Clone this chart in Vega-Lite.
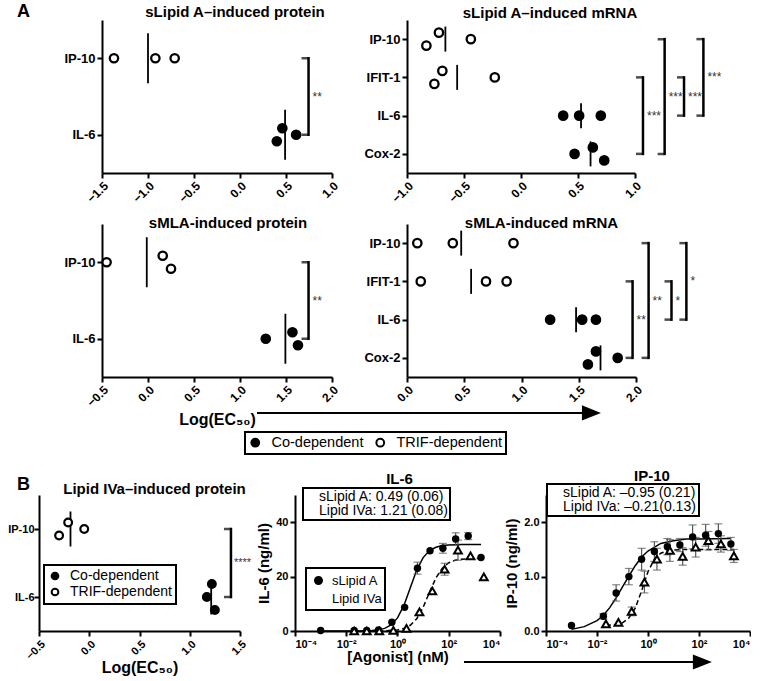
{
"$schema": "https://vega.github.io/schema/vega-lite/v6.json",
"background": "white",
"padding": {"left": 7, "top": 3, "right": 0, "bottom": 0},
"config": {
 "font": "Liberation Sans",
 "view": {"stroke": null},
 "axis": {"grid": false, "domainColor": "black", "domainWidth": 2, "tickColor": "black", "tickWidth": 2, "tickSize": 5, "labelColor": "black", "labelFont": "Liberation Sans", "labelFontWeight": "bold", "labelPadding": 2, "labelOverlap": false, "titleColor": "black", "titleFont": "Liberation Sans", "titleFontWeight": "bold"},
 "title": {"font": "Liberation Sans", "fontSize": 15, "fontWeight": "bold", "color": "black", "baseline": "alphabetic"},
 "legend": {"labelFont": "Liberation Sans", "labelColor": "black", "strokeWidth": 2}
},
"datasets": {
 "dots": [
  {"panel":"A1","gene":"IP-10","row":1,"group":"TRIF-dependent","logEC50":-1.37,"jit":0},
  {"panel":"A1","gene":"IP-10","row":1,"group":"TRIF-dependent","logEC50":-0.92,"jit":0},
  {"panel":"A1","gene":"IP-10","row":1,"group":"TRIF-dependent","logEC50":-0.71,"jit":0},
  {"panel":"A1","gene":"IL-6","row":2,"group":"Co-dependent","logEC50":0.46,"jit":-1},
  {"panel":"A1","gene":"IL-6","row":2,"group":"Co-dependent","logEC50":0.40,"jit":1},
  {"panel":"A1","gene":"IL-6","row":2,"group":"Co-dependent","logEC50":0.61,"jit":0},
  {"panel":"A2","gene":"IP-10","row":1,"group":"TRIF-dependent","logEC50":-0.72,"jit":-1},
  {"panel":"A2","gene":"IP-10","row":1,"group":"TRIF-dependent","logEC50":-0.83,"jit":1},
  {"panel":"A2","gene":"IP-10","row":1,"group":"TRIF-dependent","logEC50":-0.44,"jit":0},
  {"panel":"A2","gene":"IFIT-1","row":2,"group":"TRIF-dependent","logEC50":-0.69,"jit":-1},
  {"panel":"A2","gene":"IFIT-1","row":2,"group":"TRIF-dependent","logEC50":-0.76,"jit":1},
  {"panel":"A2","gene":"IFIT-1","row":2,"group":"TRIF-dependent","logEC50":-0.23,"jit":0},
  {"panel":"A2","gene":"IL-6","row":3,"group":"Co-dependent","logEC50":0.37,"jit":0},
  {"panel":"A2","gene":"IL-6","row":3,"group":"Co-dependent","logEC50":0.51,"jit":0},
  {"panel":"A2","gene":"IL-6","row":3,"group":"Co-dependent","logEC50":0.70,"jit":0},
  {"panel":"A2","gene":"Cox-2","row":4,"group":"Co-dependent","logEC50":0.63,"jit":-1},
  {"panel":"A2","gene":"Cox-2","row":4,"group":"Co-dependent","logEC50":0.47,"jit":0},
  {"panel":"A2","gene":"Cox-2","row":4,"group":"Co-dependent","logEC50":0.73,"jit":1},
  {"panel":"A3","gene":"IP-10","row":1,"group":"TRIF-dependent","logEC50":-0.45,"jit":0},
  {"panel":"A3","gene":"IP-10","row":1,"group":"TRIF-dependent","logEC50":0.16,"jit":-1},
  {"panel":"A3","gene":"IP-10","row":1,"group":"TRIF-dependent","logEC50":0.25,"jit":1},
  {"panel":"A3","gene":"IL-6","row":2,"group":"Co-dependent","logEC50":1.28,"jit":0},
  {"panel":"A3","gene":"IL-6","row":2,"group":"Co-dependent","logEC50":1.57,"jit":-1},
  {"panel":"A3","gene":"IL-6","row":2,"group":"Co-dependent","logEC50":1.63,"jit":1},
  {"panel":"A4","gene":"IP-10","row":1,"group":"TRIF-dependent","logEC50":0.09,"jit":0},
  {"panel":"A4","gene":"IP-10","row":1,"group":"TRIF-dependent","logEC50":0.40,"jit":0},
  {"panel":"A4","gene":"IP-10","row":1,"group":"TRIF-dependent","logEC50":0.93,"jit":0},
  {"panel":"A4","gene":"IFIT-1","row":2,"group":"TRIF-dependent","logEC50":0.12,"jit":0},
  {"panel":"A4","gene":"IFIT-1","row":2,"group":"TRIF-dependent","logEC50":0.69,"jit":0},
  {"panel":"A4","gene":"IFIT-1","row":2,"group":"TRIF-dependent","logEC50":0.87,"jit":0},
  {"panel":"A4","gene":"IL-6","row":3,"group":"Co-dependent","logEC50":1.25,"jit":0},
  {"panel":"A4","gene":"IL-6","row":3,"group":"Co-dependent","logEC50":1.53,"jit":0},
  {"panel":"A4","gene":"IL-6","row":3,"group":"Co-dependent","logEC50":1.65,"jit":0},
  {"panel":"A4","gene":"Cox-2","row":4,"group":"Co-dependent","logEC50":1.65,"jit":-1},
  {"panel":"A4","gene":"Cox-2","row":4,"group":"Co-dependent","logEC50":1.84,"jit":0},
  {"panel":"A4","gene":"Cox-2","row":4,"group":"Co-dependent","logEC50":1.58,"jit":1},
  {"panel":"B1","gene":"IP-10","row":1,"group":"TRIF-dependent","logEC50":-0.30,"jit":1},
  {"panel":"B1","gene":"IP-10","row":1,"group":"TRIF-dependent","logEC50":-0.21,"jit":-1},
  {"panel":"B1","gene":"IP-10","row":1,"group":"TRIF-dependent","logEC50":-0.05,"jit":0},
  {"panel":"B1","gene":"IL-6","row":2,"group":"Co-dependent","logEC50":1.22,"jit":-2},
  {"panel":"B1","gene":"IL-6","row":2,"group":"Co-dependent","logEC50":1.17,"jit":0},
  {"panel":"B1","gene":"IL-6","row":2,"group":"Co-dependent","logEC50":1.25,"jit":2}
 ],
 "brackets": [
  {"panel":"A1","id":"A1a","r1":1,"r2":2,"bx":0.745,"label":"**"},
  {"panel":"A2","id":"A2a","r1":2,"r2":4,"bx":1.07,"label":"***"},
  {"panel":"A2","id":"A2b","r1":1,"r2":4,"bx":1.26,"label":"***"},
  {"panel":"A2","id":"A2c","r1":2,"r2":3,"bx":1.43,"label":"***"},
  {"panel":"A2","id":"A2d","r1":1,"r2":3,"bx":1.60,"label":"***"},
  {"panel":"A3","id":"A3a","r1":1,"r2":2,"bx":1.745,"label":"**"},
  {"panel":"A4","id":"A4a","r1":2,"r2":4,"bx":1.97,"label":"**"},
  {"panel":"A4","id":"A4b","r1":1,"r2":4,"bx":2.11,"label":"**"},
  {"panel":"A4","id":"A4c","r1":2,"r2":3,"bx":2.31,"label":"*"},
  {"panel":"A4","id":"A4d","r1":1,"r2":3,"bx":2.44,"label":"*"},
  {"panel":"B1","id":"B1a","r1":1,"r2":2,"bx":1.41,"label":"****"}
 ],
 "doses": [
  {"assay":"IL-6","agonist":"sLipid A","dose":0.001,"resp":0.2},
  {"assay":"IL-6","agonist":"sLipid A","dose":0.0204,"resp":0.2},
  {"assay":"IL-6","agonist":"sLipid A","dose":0.063,"resp":0.2},
  {"assay":"IL-6","agonist":"sLipid A","dose":0.182,"resp":0.4},
  {"assay":"IL-6","agonist":"sLipid A","dose":0.603,"resp":3.2},
  {"assay":"IL-6","agonist":"sLipid A","dose":1.9,"resp":8.7},
  {"assay":"IL-6","agonist":"sLipid A","dose":6.0,"resp":23.1,"err":2.2},
  {"assay":"IL-6","agonist":"sLipid A","dose":18.6,"resp":29.5},
  {"assay":"IL-6","agonist":"sLipid A","dose":59,"resp":30.4,"err":1.8},
  {"assay":"IL-6","agonist":"sLipid A","dose":186,"resp":33.8,"err":2.3},
  {"assay":"IL-6","agonist":"sLipid A","dose":575,"resp":34.9,"err":1.3},
  {"assay":"IL-6","agonist":"sLipid A","dose":1820,"resp":27.0},
  {"assay":"IL-6","agonist":"Lipid IVa","dose":0.0204,"resp":0},
  {"assay":"IL-6","agonist":"Lipid IVa","dose":0.063,"resp":0},
  {"assay":"IL-6","agonist":"Lipid IVa","dose":0.195,"resp":0},
  {"assay":"IL-6","agonist":"Lipid IVa","dose":0.69,"resp":0.2},
  {"assay":"IL-6","agonist":"Lipid IVa","dose":2.24,"resp":1.0},
  {"assay":"IL-6","agonist":"Lipid IVa","dose":7.2,"resp":7.0},
  {"assay":"IL-6","agonist":"Lipid IVa","dose":22.9,"resp":14.7},
  {"assay":"IL-6","agonist":"Lipid IVa","dose":69,"resp":22.7,"err":2.2},
  {"assay":"IL-6","agonist":"Lipid IVa","dose":229,"resp":29.7,"err":3.7},
  {"assay":"IL-6","agonist":"Lipid IVa","dose":708,"resp":27.6},
  {"assay":"IL-6","agonist":"Lipid IVa","dose":2340,"resp":19.9},
  {"assay":"IP-10","agonist":"sLipid A","dose":0.001,"resp":0.10},
  {"assay":"IP-10","agonist":"sLipid A","dose":0.0178,"resp":0.27,"err":0.05},
  {"assay":"IP-10","agonist":"sLipid A","dose":0.0562,"resp":0.70,"err":0.15},
  {"assay":"IP-10","agonist":"sLipid A","dose":0.178,"resp":1.00,"err":0.15},
  {"assay":"IP-10","agonist":"sLipid A","dose":0.562,"resp":1.32,"err":0.2},
  {"assay":"IP-10","agonist":"sLipid A","dose":1.78,"resp":1.46,"err":0.18},
  {"assay":"IP-10","agonist":"sLipid A","dose":5.75,"resp":1.55,"err":0.15},
  {"assay":"IP-10","agonist":"sLipid A","dose":17.8,"resp":1.58,"err":0.12},
  {"assay":"IP-10","agonist":"sLipid A","dose":56.2,"resp":1.73,"err":0.22},
  {"assay":"IP-10","agonist":"sLipid A","dose":182,"resp":1.76,"err":0.2},
  {"assay":"IP-10","agonist":"sLipid A","dose":575,"resp":1.79,"err":0.18},
  {"assay":"IP-10","agonist":"sLipid A","dose":1780,"resp":1.60,"err":0.12},
  {"assay":"IP-10","agonist":"Lipid IVa","dose":0.0224,"resp":0.13},
  {"assay":"IP-10","agonist":"Lipid IVa","dose":0.0692,"resp":0.16},
  {"assay":"IP-10","agonist":"Lipid IVa","dose":0.229,"resp":0.36,"err":0.08},
  {"assay":"IP-10","agonist":"Lipid IVa","dose":0.724,"resp":0.90,"err":0.2},
  {"assay":"IP-10","agonist":"Lipid IVa","dose":2.24,"resp":1.32,"err":0.2},
  {"assay":"IP-10","agonist":"Lipid IVa","dose":7.24,"resp":1.48,"err":0.2},
  {"assay":"IP-10","agonist":"Lipid IVa","dose":22.9,"resp":1.37,"err":0.16},
  {"assay":"IP-10","agonist":"Lipid IVa","dose":74.1,"resp":1.54,"err":0.18},
  {"assay":"IP-10","agonist":"Lipid IVa","dose":234,"resp":1.66,"err":0.17},
  {"assay":"IP-10","agonist":"Lipid IVa","dose":724,"resp":1.60,"err":0.15},
  {"assay":"IP-10","agonist":"Lipid IVa","dose":2340,"resp":1.38,"err":0.12}
 ],
 "curves": [
  {"assay":"IL-6","agonist":"sLipid A","dose":0.001,"resp":0},
  {"assay":"IL-6","agonist":"sLipid A","dose":0.01,"resp":0.01},
  {"assay":"IL-6","agonist":"sLipid A","dose":0.0316,"resp":0.03},
  {"assay":"IL-6","agonist":"sLipid A","dose":0.1,"resp":0.18},
  {"assay":"IL-6","agonist":"sLipid A","dose":0.178,"resp":0.42},
  {"assay":"IL-6","agonist":"sLipid A","dose":0.316,"resp":0.97},
  {"assay":"IL-6","agonist":"sLipid A","dose":0.562,"resp":2.2},
  {"assay":"IL-6","agonist":"sLipid A","dose":1,"resp":4.8},
  {"assay":"IL-6","agonist":"sLipid A","dose":1.78,"resp":9.4},
  {"assay":"IL-6","agonist":"sLipid A","dose":3.16,"resp":15.9},
  {"assay":"IL-6","agonist":"sLipid A","dose":5.62,"resp":22.4},
  {"assay":"IL-6","agonist":"sLipid A","dose":10,"resp":27.0},
  {"assay":"IL-6","agonist":"sLipid A","dose":17.8,"resp":29.6},
  {"assay":"IL-6","agonist":"sLipid A","dose":31.6,"resp":30.8},
  {"assay":"IL-6","agonist":"sLipid A","dose":56.2,"resp":31.4},
  {"assay":"IL-6","agonist":"sLipid A","dose":100,"resp":31.6},
  {"assay":"IL-6","agonist":"sLipid A","dose":316,"resp":31.8},
  {"assay":"IL-6","agonist":"sLipid A","dose":1820,"resp":31.8},
  {"assay":"IL-6","agonist":"Lipid IVa","dose":0.0204,"resp":0},
  {"assay":"IL-6","agonist":"Lipid IVa","dose":0.1,"resp":0.01},
  {"assay":"IL-6","agonist":"Lipid IVa","dose":0.316,"resp":0.07},
  {"assay":"IL-6","agonist":"Lipid IVa","dose":1,"resp":0.4},
  {"assay":"IL-6","agonist":"Lipid IVa","dose":1.78,"resp":0.94},
  {"assay":"IL-6","agonist":"Lipid IVa","dose":3.16,"resp":2.1},
  {"assay":"IL-6","agonist":"Lipid IVa","dose":5.62,"resp":4.5},
  {"assay":"IL-6","agonist":"Lipid IVa","dose":10,"resp":8.7},
  {"assay":"IL-6","agonist":"Lipid IVa","dose":17.8,"resp":14.3},
  {"assay":"IL-6","agonist":"Lipid IVa","dose":31.6,"resp":19.5},
  {"assay":"IL-6","agonist":"Lipid IVa","dose":56.2,"resp":23.1},
  {"assay":"IL-6","agonist":"Lipid IVa","dose":100,"resp":25.1},
  {"assay":"IL-6","agonist":"Lipid IVa","dose":178,"resp":26.0},
  {"assay":"IL-6","agonist":"Lipid IVa","dose":316,"resp":26.4},
  {"assay":"IL-6","agonist":"Lipid IVa","dose":1000,"resp":26.7},
  {"assay":"IL-6","agonist":"Lipid IVa","dose":2340,"resp":26.7},
  {"assay":"IP-10","agonist":"sLipid A","dose":0.001,"resp":0.03},
  {"assay":"IP-10","agonist":"sLipid A","dose":0.00316,"resp":0.08},
  {"assay":"IP-10","agonist":"sLipid A","dose":0.01,"resp":0.19},
  {"assay":"IP-10","agonist":"sLipid A","dose":0.0178,"resp":0.29},
  {"assay":"IP-10","agonist":"sLipid A","dose":0.0316,"resp":0.43},
  {"assay":"IP-10","agonist":"sLipid A","dose":0.0562,"resp":0.61},
  {"assay":"IP-10","agonist":"sLipid A","dose":0.1,"resp":0.81},
  {"assay":"IP-10","agonist":"sLipid A","dose":0.178,"resp":1.01},
  {"assay":"IP-10","agonist":"sLipid A","dose":0.316,"resp":1.2},
  {"assay":"IP-10","agonist":"sLipid A","dose":0.562,"resp":1.36},
  {"assay":"IP-10","agonist":"sLipid A","dose":1,"resp":1.47},
  {"assay":"IP-10","agonist":"sLipid A","dose":3.16,"resp":1.61},
  {"assay":"IP-10","agonist":"sLipid A","dose":10,"resp":1.66},
  {"assay":"IP-10","agonist":"sLipid A","dose":31.6,"resp":1.69},
  {"assay":"IP-10","agonist":"sLipid A","dose":100,"resp":1.69},
  {"assay":"IP-10","agonist":"sLipid A","dose":1780,"resp":1.7},
  {"assay":"IP-10","agonist":"Lipid IVa","dose":0.0224,"resp":0.1},
  {"assay":"IP-10","agonist":"Lipid IVa","dose":0.0562,"resp":0.12},
  {"assay":"IP-10","agonist":"Lipid IVa","dose":0.1,"resp":0.15},
  {"assay":"IP-10","agonist":"Lipid IVa","dose":0.178,"resp":0.24},
  {"assay":"IP-10","agonist":"Lipid IVa","dose":0.316,"resp":0.42},
  {"assay":"IP-10","agonist":"Lipid IVa","dose":0.562,"resp":0.74},
  {"assay":"IP-10","agonist":"Lipid IVa","dose":1,"resp":1.09},
  {"assay":"IP-10","agonist":"Lipid IVa","dose":1.78,"resp":1.32},
  {"assay":"IP-10","agonist":"Lipid IVa","dose":3.16,"resp":1.43},
  {"assay":"IP-10","agonist":"Lipid IVa","dose":5.62,"resp":1.47},
  {"assay":"IP-10","agonist":"Lipid IVa","dose":10,"resp":1.49},
  {"assay":"IP-10","agonist":"Lipid IVa","dose":31.6,"resp":1.5},
  {"assay":"IP-10","agonist":"Lipid IVa","dose":2340,"resp":1.5}
 ],
 "fits": [
  {"assay":"IL-6","agonist":"sLipid A","fit":"sLipid A: 0.49 (0.06)"},
  {"assay":"IL-6","agonist":"Lipid IVa","fit":"Lipid IVa: 1.21 (0.08)"},
  {"assay":"IP-10","agonist":"sLipid A","fit":"sLipid A: –0.95 (0.21)"},
  {"assay":"IP-10","agonist":"Lipid IVa","fit":"Lipid IVa: –0.21(0.13)"}
 ]
},
"resolve": {"scale": {"fill": "independent", "shape": "independent", "stroke": "independent"}},
"spacing": 14,
"vconcat": [
 {
  "columns": 4,
  "bounds": "flush",
  "align": "each",
  "spacing": {"row": 51, "column": 0},
  "resolve": {"scale": {"fill": "independent"}},
  "concat": [
   {"width": 63, "height": 1, "data": {"values": []}, "mark": "point", "title": {"text": "A", "anchor": "start", "frame": "group", "fontSize": 18, "offset": -1, "dx": -22}},
   {
    "width": 230, "height": 153,
    "title": {"text": "sLipid A–induced protein", "dx": 18, "offset": 0},
    "layer": [
     {"data": {"name": "dots"}, "transform": [{"filter": "datum.panel === 'A1'"}],
      "mark": {"type": "tick", "orient": "vertical", "size": 50, "thickness": 1.8, "color": "black"},
      "encoding": {
       "x": {"aggregate": "mean", "field": "logEC50", "type": "quantitative", "scale": {"domain": [-1.5, 1], "nice": false, "zero": false}, "axis": {"values": [-1.5, -1, -0.5, 0, 0.5, 1], "format": ".1f", "labelAngle": -45, "labelFontSize": 12, "title": null}},
       "y": {"field": "row", "type": "quantitative", "scale": {"domain": [0.5, 2.5], "reverse": true, "nice": false, "zero": false}, "axis": {"values": [1, 2], "labelExpr": "datum.value == 1 ? 'IP-10' : 'IL-6'", "labelFontSize": 13, "title": null}}
      }},
     {"data": {"name": "dots"}, "transform": [{"filter": "datum.panel === 'A1'"}],
      "mark": {"type": "point", "shape": "circle", "filled": true, "size": 70, "stroke": "black", "strokeWidth": 2.3, "opacity": 1, "yOffset": {"expr": "datum.jit * 6.5"}},
      "encoding": {
       "x": {"field": "logEC50", "type": "quantitative", "title": null},
       "y": {"field": "row", "type": "quantitative", "title": null},
       "fill": {"field": "group", "type": "nominal", "scale": {"domain": ["Co-dependent", "TRIF-dependent"], "range": ["black", "white"]}, "legend": {"orient": "none", "legendX": 143, "legendY": 412, "direction": "horizontal", "title": null, "strokeColor": "black", "padding": 3, "labelFontSize": 14.5, "symbolType": "circle", "symbolSize": 60, "symbolStrokeColor": "black", "symbolStrokeWidth": 2, "symbolOpacity": 1, "columnPadding": 8, "labelOffset": 9}}
      }},
     {"data": {"name": "brackets"}, "transform": [{"filter": "datum.panel === 'A1'"}],
      "mark": {"type": "rule", "strokeWidth": 2.5, "color": "black", "strokeCap": "square"},
      "encoding": {"x": {"field": "bx", "type": "quantitative", "title": null}, "y": {"field": "r1", "type": "quantitative", "title": null}, "y2": {"field": "r2"}}},
     {"data": {"name": "brackets"}, "transform": [{"filter": "datum.panel === 'A1'"}, {"fold": ["r1", "r2"], "as": ["end", "rv"]}],
      "mark": {"type": "tick", "orient": "horizontal", "size": 7, "thickness": 2.5, "color": "black", "xOffset": -3.5},
      "encoding": {"x": {"field": "bx", "type": "quantitative", "title": null}, "y": {"field": "rv", "type": "quantitative", "title": null}}},
     {"data": {"name": "brackets"}, "transform": [{"filter": "datum.panel === 'A1'"}, {"fold": ["r1", "r2"], "as": ["end", "rv"]}],
      "mark": {"type": "text", "align": "left", "baseline": "middle", "dx": 4, "fontSize": 12, "color": "#333"},
      "encoding": {"x": {"field": "bx", "type": "quantitative", "title": null}, "y": {"aggregate": "mean", "field": "rv", "type": "quantitative", "title": null}, "text": {"field": "label", "type": "nominal"}, "detail": {"field": "id", "type": "nominal"}}}
    ]
   },
   {"width": 75, "height": 1, "data": {"values": []}, "mark": "point"},
   {
    "width": 228, "height": 153,
    "title": {"text": "sLipid A–induced mRNA", "dx": 29, "offset": -0.5},
    "layer": [
     {"data": {"name": "dots"}, "transform": [{"filter": "datum.panel === 'A2'"}],
      "mark": {"type": "tick", "orient": "vertical", "size": 25, "thickness": 1.8, "color": "black"},
      "encoding": {
       "x": {"aggregate": "mean", "field": "logEC50", "type": "quantitative", "scale": {"domain": [-1, 1], "nice": false, "zero": false}, "axis": {"values": [-1, -0.5, 0, 0.5, 1], "format": ".1f", "labelAngle": -45, "labelFontSize": 12, "title": null}},
       "y": {"field": "row", "type": "quantitative", "scale": {"domain": [0.5, 4.5], "reverse": true, "nice": false, "zero": false}, "axis": {"values": [1, 2, 3, 4], "labelExpr": "datum.value == 1 ? 'IP-10' : datum.value == 2 ? 'IFIT-1' : datum.value == 3 ? 'IL-6' : 'Cox-2'", "labelFontSize": 13, "title": null}}
      }},
     {"data": {"name": "dots"}, "transform": [{"filter": "datum.panel === 'A2'"}],
      "mark": {"type": "point", "shape": "circle", "filled": true, "size": 70, "stroke": "black", "strokeWidth": 2.3, "opacity": 1, "yOffset": {"expr": "datum.jit * 6.5"}},
      "encoding": {
       "x": {"field": "logEC50", "type": "quantitative", "title": null},
       "y": {"field": "row", "type": "quantitative", "title": null},
       "fill": {"field": "group", "type": "nominal", "scale": {"domain": ["Co-dependent", "TRIF-dependent"], "range": ["black", "white"]}, "legend": null}
      }},
     {"data": {"name": "brackets"}, "transform": [{"filter": "datum.panel === 'A2'"}],
      "mark": {"type": "rule", "strokeWidth": 2.5, "color": "black", "strokeCap": "square"},
      "encoding": {"x": {"field": "bx", "type": "quantitative", "title": null}, "y": {"field": "r1", "type": "quantitative", "title": null}, "y2": {"field": "r2"}}},
     {"data": {"name": "brackets"}, "transform": [{"filter": "datum.panel === 'A2'"}, {"fold": ["r1", "r2"], "as": ["end", "rv"]}],
      "mark": {"type": "tick", "orient": "horizontal", "size": 7, "thickness": 2.5, "color": "black", "xOffset": -3.5},
      "encoding": {"x": {"field": "bx", "type": "quantitative", "title": null}, "y": {"field": "rv", "type": "quantitative", "title": null}}},
     {"data": {"name": "brackets"}, "transform": [{"filter": "datum.panel === 'A2'"}, {"fold": ["r1", "r2"], "as": ["end", "rv"]}],
      "mark": {"type": "text", "align": "left", "baseline": "middle", "dx": 4, "fontSize": 12, "color": "#333"},
      "encoding": {"x": {"field": "bx", "type": "quantitative", "title": null}, "y": {"aggregate": "mean", "field": "rv", "type": "quantitative", "title": null}, "text": {"field": "label", "type": "nominal"}, "detail": {"field": "id", "type": "nominal"}}}
    ]
   },
   {"width": 63, "height": 1, "data": {"values": []}, "mark": "point"},
   {
    "width": 230, "height": 153,
    "title": {"text": "sMLA-induced protein", "dx": 11, "offset": -7},
    "layer": [
     {"data": {"name": "dots"}, "transform": [{"filter": "datum.panel === 'A3'"}],
      "mark": {"type": "tick", "orient": "vertical", "size": 50, "thickness": 1.8, "color": "black"},
      "encoding": {
       "x": {"aggregate": "mean", "field": "logEC50", "type": "quantitative", "scale": {"domain": [-0.5, 2], "nice": false, "zero": false}, "axis": {"values": [-0.5, 0, 0.5, 1, 1.5, 2], "format": ".1f", "labelAngle": -45, "labelFontSize": 12, "title": "Log(EC₅₀)", "titleFontSize": 16, "titlePadding": 3}},
       "y": {"field": "row", "type": "quantitative", "scale": {"domain": [0.5, 2.5], "reverse": true, "nice": false, "zero": false}, "axis": {"values": [1, 2], "labelExpr": "datum.value == 1 ? 'IP-10' : 'IL-6'", "labelFontSize": 13, "title": null}}
      }},
     {"data": {"name": "dots"}, "transform": [{"filter": "datum.panel === 'A3'"}],
      "mark": {"type": "point", "shape": "circle", "filled": true, "size": 70, "stroke": "black", "strokeWidth": 2.3, "opacity": 1, "yOffset": {"expr": "datum.jit * 6.5"}},
      "encoding": {
       "x": {"field": "logEC50", "type": "quantitative"},
       "y": {"field": "row", "type": "quantitative", "title": null},
       "fill": {"field": "group", "type": "nominal", "scale": {"domain": ["Co-dependent", "TRIF-dependent"], "range": ["black", "white"]}, "legend": null}
      }},
     {"data": {"name": "brackets"}, "transform": [{"filter": "datum.panel === 'A3'"}],
      "mark": {"type": "rule", "strokeWidth": 2.5, "color": "black", "strokeCap": "square"},
      "encoding": {"x": {"field": "bx", "type": "quantitative"}, "y": {"field": "r1", "type": "quantitative", "title": null}, "y2": {"field": "r2"}}},
     {"data": {"name": "brackets"}, "transform": [{"filter": "datum.panel === 'A3'"}, {"fold": ["r1", "r2"], "as": ["end", "rv"]}],
      "mark": {"type": "tick", "orient": "horizontal", "size": 7, "thickness": 2.5, "color": "black", "xOffset": -3.5},
      "encoding": {"x": {"field": "bx", "type": "quantitative"}, "y": {"field": "rv", "type": "quantitative", "title": null}}},
     {"data": {"name": "brackets"}, "transform": [{"filter": "datum.panel === 'A3'"}, {"fold": ["r1", "r2"], "as": ["end", "rv"]}],
      "mark": {"type": "text", "align": "left", "baseline": "middle", "dx": 4, "fontSize": 12, "color": "#333"},
      "encoding": {"x": {"field": "bx", "type": "quantitative"}, "y": {"aggregate": "mean", "field": "rv", "type": "quantitative", "title": null}, "text": {"field": "label", "type": "nominal"}, "detail": {"field": "id", "type": "nominal"}}},
     {"data": {"values": [{}]},
      "mark": {"type": "rule", "color": "black", "strokeWidth": 2},
      "encoding": {"x": {"datum": 1.185}, "x2": {"datum": 4.77}, "y": {"datum": 2.97}}},
     {"data": {"values": [{}]},
      "mark": {"type": "point", "shape": "M-1,-0.8L1,0L-1,0.8Z", "size": 361, "filled": true, "color": "black", "opacity": 1},
      "encoding": {"x": {"datum": 4.82}, "y": {"datum": 2.97}}}
    ]
   },
   {"width": 73, "height": 1, "data": {"values": []}, "mark": "point"},
   {
    "width": 229, "height": 153,
    "title": {"text": "sMLA-induced mRNA", "dx": 20, "offset": -6.5},
    "layer": [
     {"data": {"name": "dots"}, "transform": [{"filter": "datum.panel === 'A4'"}],
      "mark": {"type": "tick", "orient": "vertical", "size": 25, "thickness": 1.8, "color": "black"},
      "encoding": {
       "x": {"aggregate": "mean", "field": "logEC50", "type": "quantitative", "scale": {"domain": [0, 2], "nice": false, "zero": false}, "axis": {"values": [0, 0.5, 1, 1.5, 2], "format": ".1f", "labelAngle": -45, "labelFontSize": 12, "title": null}},
       "y": {"field": "row", "type": "quantitative", "scale": {"domain": [0.5, 4.5], "reverse": true, "nice": false, "zero": false}, "axis": {"values": [1, 2, 3, 4], "labelExpr": "datum.value == 1 ? 'IP-10' : datum.value == 2 ? 'IFIT-1' : datum.value == 3 ? 'IL-6' : 'Cox-2'", "labelFontSize": 13, "title": null}}
      }},
     {"data": {"name": "dots"}, "transform": [{"filter": "datum.panel === 'A4'"}],
      "mark": {"type": "point", "shape": "circle", "filled": true, "size": 70, "stroke": "black", "strokeWidth": 2.3, "opacity": 1, "yOffset": {"expr": "datum.jit * 6.5"}},
      "encoding": {
       "x": {"field": "logEC50", "type": "quantitative", "title": null},
       "y": {"field": "row", "type": "quantitative", "title": null},
       "fill": {"field": "group", "type": "nominal", "scale": {"domain": ["Co-dependent", "TRIF-dependent"], "range": ["black", "white"]}, "legend": null}
      }},
     {"data": {"name": "brackets"}, "transform": [{"filter": "datum.panel === 'A4'"}],
      "mark": {"type": "rule", "strokeWidth": 2.5, "color": "black", "strokeCap": "square"},
      "encoding": {"x": {"field": "bx", "type": "quantitative", "title": null}, "y": {"field": "r1", "type": "quantitative", "title": null}, "y2": {"field": "r2"}}},
     {"data": {"name": "brackets"}, "transform": [{"filter": "datum.panel === 'A4'"}, {"fold": ["r1", "r2"], "as": ["end", "rv"]}],
      "mark": {"type": "tick", "orient": "horizontal", "size": 7, "thickness": 2.5, "color": "black", "xOffset": -3.5},
      "encoding": {"x": {"field": "bx", "type": "quantitative", "title": null}, "y": {"field": "rv", "type": "quantitative", "title": null}}},
     {"data": {"name": "brackets"}, "transform": [{"filter": "datum.panel === 'A4'"}, {"fold": ["r1", "r2"], "as": ["end", "rv"]}],
      "mark": {"type": "text", "align": "left", "baseline": "middle", "dx": 4, "fontSize": 12, "color": "#333"},
      "encoding": {"x": {"field": "bx", "type": "quantitative", "title": null}, "y": {"aggregate": "mean", "field": "rv", "type": "quantitative", "title": null}, "text": {"field": "label", "type": "nominal"}, "detail": {"field": "id", "type": "nominal"}}}
    ]
   }
  ]
 },
 {
  "bounds": "flush",
  "spacing": 0,
  "resolve": {"scale": {"fill": "independent", "shape": "independent", "stroke": "independent"}},
  "hconcat": [
   {
    "width": 201, "height": 136,
    "title": {"text": "Lipid IVa–induced protein", "dx": 15, "offset": -2},
    "layer": [
     {"data": {"name": "dots"}, "transform": [{"filter": "datum.panel === 'B1'"}],
      "mark": {"type": "tick", "orient": "vertical", "size": 35, "thickness": 1.8, "color": "black"},
      "encoding": {
       "x": {"aggregate": "mean", "field": "logEC50", "type": "quantitative", "scale": {"domain": [-0.5, 1.5], "nice": false, "zero": false}, "axis": {"values": [-0.5, 0, 0.5, 1, 1.5], "format": ".1f", "labelAngle": -45, "labelFontSize": 11, "title": "Log(EC₅₀)", "titleFontSize": 16, "titlePadding": -2}},
       "y": {"field": "row", "type": "quantitative", "scale": {"domain": [0.5, 2.5], "reverse": true, "nice": false, "zero": false}, "axis": {"values": [1, 2], "labelExpr": "datum.value == 1 ? 'IP-10' : 'IL-6'", "labelFontSize": 11, "labelPadding": 0, "title": null}}
      }},
     {"data": {"name": "dots"}, "transform": [{"filter": "datum.panel === 'B1'"}],
      "mark": {"type": "point", "shape": "circle", "filled": true, "size": 60, "stroke": "black", "strokeWidth": 2.2, "opacity": 1, "yOffset": {"expr": "datum.jit * 6.5"}},
      "encoding": {
       "x": {"field": "logEC50", "type": "quantitative"},
       "y": {"field": "row", "type": "quantitative", "title": null},
       "fill": {"field": "group", "type": "nominal", "scale": {"domain": ["Co-dependent", "TRIF-dependent"], "range": ["black", "white"]}, "legend": {"orient": "none", "legendX": 5, "legendY": 70, "direction": "vertical", "title": null, "strokeColor": "black", "padding": 4, "labelFontSize": 14, "symbolType": "circle", "symbolSize": 45, "symbolStrokeColor": "black", "symbolStrokeWidth": 2, "symbolOpacity": 1, "labelOffset": 8, "rowPadding": 0}}
      }},
     {"data": {"name": "brackets"}, "transform": [{"filter": "datum.panel === 'B1'"}],
      "mark": {"type": "rule", "strokeWidth": 2.5, "color": "black", "strokeCap": "square"},
      "encoding": {"x": {"field": "bx", "type": "quantitative"}, "y": {"field": "r1", "type": "quantitative", "title": null}, "y2": {"field": "r2"}}},
     {"data": {"name": "brackets"}, "transform": [{"filter": "datum.panel === 'B1'"}, {"fold": ["r1", "r2"], "as": ["end", "rv"]}],
      "mark": {"type": "tick", "orient": "horizontal", "size": 7, "thickness": 2.5, "color": "black", "xOffset": -3.5},
      "encoding": {"x": {"field": "bx", "type": "quantitative"}, "y": {"field": "rv", "type": "quantitative", "title": null}}},
     {"data": {"name": "brackets"}, "transform": [{"filter": "datum.panel === 'B1'"}, {"fold": ["r1", "r2"], "as": ["end", "rv"]}],
      "mark": {"type": "text", "align": "left", "baseline": "middle", "dx": 3, "fontSize": 11, "color": "#333"},
      "encoding": {"x": {"field": "bx", "type": "quantitative"}, "y": {"aggregate": "mean", "field": "rv", "type": "quantitative", "title": null}, "text": {"field": "label", "type": "nominal"}, "detail": {"field": "id", "type": "nominal"}}}
    ]
   },
   {"width": 55, "height": 1, "data": {"values": []}, "mark": "point", "title": {"text": "B", "anchor": "start", "frame": "group", "fontSize": 18, "offset": 1.5, "dx": -223}},
   {
    "width": 205, "height": 136,
    "title": {"text": "IL-6", "dx": 2, "offset": 0},
    "layer": [
     {"data": {"name": "curves"}, "transform": [{"filter": "datum.assay === 'IL-6' && datum.agonist === 'sLipid A'"}],
      "mark": {"type": "line", "color": "black", "strokeWidth": 1.5},
      "encoding": {
       "x": {"field": "dose", "type": "quantitative", "scale": {"type": "log", "domain": [0.0001, 10000], "nice": false}, "axis": {"values": [0.0001, 0.01, 1, 100, 10000], "labelExpr": "datum.value < 0.001 ? '10⁻⁴' : datum.value < 0.1 ? '10⁻²' : datum.value < 10 ? '10⁰' : datum.value < 1000 ? '10²' : '10⁴'", "labelFontSize": 11, "title": "[Agonist] (nM)", "titleFontSize": 15, "titlePadding": 0}},
       "y": {"field": "resp", "type": "quantitative", "scale": {"domain": [0, 50], "nice": false}, "axis": {"values": [0, 10, 20, 30, 40, 50], "labelOverlap": false, "labelFontSize": 11, "title": "IL-6 (ng/ml)", "titleFontSize": 15}}
      }},
     {"data": {"name": "curves"}, "transform": [{"filter": "datum.assay === 'IL-6' && datum.agonist === 'Lipid IVa'"}],
      "mark": {"type": "line", "color": "black", "strokeWidth": 1.5, "strokeDash": [5, 3]},
      "encoding": {"x": {"field": "dose", "type": "quantitative"}, "y": {"field": "resp", "type": "quantitative"}}},
     {"data": {"name": "doses"}, "transform": [{"filter": "datum.assay === 'IL-6' && isValid(datum.err)"}],
      "mark": {"type": "errorbar", "ticks": {"size": 8}, "color": "#555", "thickness": 1.2},
      "encoding": {"x": {"field": "dose", "type": "quantitative"}, "y": {"field": "resp", "type": "quantitative", "axis": {"values": [0, 10, 20, 30, 40, 50], "labelOverlap": false, "labelFontSize": 11, "title": "IL-6 (ng/ml)", "titleFontSize": 15}}, "yError": {"field": "err"}}},
     {"data": {"name": "doses"}, "transform": [{"filter": "datum.assay === 'IL-6' && datum.agonist === 'sLipid A'"}],
      "mark": {"type": "point", "shape": "circle", "filled": true, "size": 55, "color": "black", "opacity": 1},
      "encoding": {"x": {"field": "dose", "type": "quantitative"}, "y": {"field": "resp", "type": "quantitative"}}},
     {"data": {"name": "doses"}, "transform": [{"filter": "datum.assay === 'IL-6' && datum.agonist === 'Lipid IVa'"}],
      "mark": {"type": "point", "shape": "triangle-up", "filled": true, "fill": "white", "stroke": "black", "strokeWidth": 2, "size": 60, "opacity": 1},
      "encoding": {"x": {"field": "dose", "type": "quantitative"}, "y": {"field": "resp", "type": "quantitative"}}},
     {"data": {"name": "fits"}, "transform": [{"filter": "datum.assay === 'IL-6'"}],
      "mark": {"type": "point", "filled": false, "stroke": "black", "strokeWidth": 1.6, "size": 0},
      "encoding": {
       "shape": {"field": "agonist", "type": "nominal", "scale": {"domain": ["sLipid A", "Lipid IVa"], "range": ["M-1.2,0L1.2,0M0.55,0A0.55,0.55,0,1,1,-0.55,0A0.55,0.55,0,1,1,0.55,0Z", "M-1.25,0L-0.8,0M0.8,0L1.25,0M0,-0.6L0.66,0.55L-0.66,0.55Z"]}, "legend": {"orient": "none", "legendX": 11, "legendY": 73, "title": null, "strokeColor": "black", "padding": 3, "labelFontSize": 13, "symbolSize": 270, "symbolStrokeColor": "black", "symbolStrokeWidth": 1.6, "symbolOpacity": 1, "labelOffset": 4, "rowPadding": 0}},
       "fill": {"field": "agonist", "type": "nominal", "scale": {"domain": ["sLipid A", "Lipid IVa"], "range": ["black", "white"]}, "legend": {"orient": "none", "legendX": 11, "legendY": 73, "title": null, "strokeColor": "black", "padding": 3, "labelFontSize": 13, "symbolSize": 270, "symbolStrokeColor": "black", "symbolStrokeWidth": 1.6, "symbolOpacity": 1, "labelOffset": 4, "rowPadding": 0}}
      }},
     {"data": {"name": "fits"}, "transform": [{"filter": "datum.assay === 'IL-6'"}],
      "mark": {"type": "point", "opacity": 0},
      "encoding": {
       "stroke": {"field": "fit", "type": "nominal", "sort": null, "scale": {"range": ["transparent", "transparent"]}, "legend": {"orient": "none", "legendX": 8, "legendY": -7, "title": null, "strokeColor": "black", "padding": 2, "labelFontSize": 14, "symbolSize": 0, "symbolOpacity": 0, "labelOffset": 0, "rowPadding": -2}}
      }},
     {"data": {"values": [{}]},
      "mark": {"type": "rule", "color": "black", "strokeWidth": 2},
      "encoding": {"x": {"datum": 394}, "x2": {"datum": 540000000000}, "y": {"datum": -11.4}}},
     {"data": {"values": [{}]},
      "mark": {"type": "point", "shape": "M-1,-0.8L1,0L-1,0.8Z", "size": 361, "filled": true, "color": "black", "opacity": 1},
      "encoding": {"x": {"datum": 790000000000}, "y": {"datum": -11.4}}}
    ]
   },
   {"width": 46, "height": 1, "data": {"values": []}, "mark": "point"},
   {
    "width": 204, "height": 136,
    "title": {"text": "IP-10", "dx": 4, "offset": -1},
    "layer": [
     {"data": {"name": "curves"}, "transform": [{"filter": "datum.assay === 'IP-10' && datum.agonist === 'sLipid A'"}],
      "mark": {"type": "line", "color": "black", "strokeWidth": 1.5},
      "encoding": {
       "x": {"field": "dose", "type": "quantitative", "scale": {"type": "log", "domain": [0.0001, 10000], "nice": false}, "axis": {"values": [0.0001, 0.01, 1, 100, 10000], "labelExpr": "datum.value < 0.001 ? '10⁻⁴' : datum.value < 0.1 ? '10⁻²' : datum.value < 10 ? '10⁰' : datum.value < 1000 ? '10²' : '10⁴'", "labelFontSize": 11, "title": null}},
       "y": {"field": "resp", "type": "quantitative", "scale": {"domain": [0, 2.5], "nice": false}, "axis": {"values": [0, 0.5, 1, 1.5, 2, 2.5], "format": ".1f", "labelOverlap": false, "labelFontSize": 11, "title": "IP-10 (ng/ml)", "titleFontSize": 15}}
      }},
     {"data": {"name": "curves"}, "transform": [{"filter": "datum.assay === 'IP-10' && datum.agonist === 'Lipid IVa'"}],
      "mark": {"type": "line", "color": "black", "strokeWidth": 1.5, "strokeDash": [5, 3]},
      "encoding": {"x": {"field": "dose", "type": "quantitative"}, "y": {"field": "resp", "type": "quantitative"}}},
     {"data": {"name": "doses"}, "transform": [{"filter": "datum.assay === 'IP-10' && isValid(datum.err)"}],
      "mark": {"type": "errorbar", "ticks": {"size": 8}, "color": "#555", "thickness": 1.2},
      "encoding": {"x": {"field": "dose", "type": "quantitative"}, "y": {"field": "resp", "type": "quantitative", "axis": {"values": [0, 0.5, 1, 1.5, 2, 2.5], "format": ".1f", "labelOverlap": false, "labelFontSize": 11, "title": "IP-10 (ng/ml)", "titleFontSize": 15}}, "yError": {"field": "err"}}},
     {"data": {"name": "doses"}, "transform": [{"filter": "datum.assay === 'IP-10' && datum.agonist === 'sLipid A'"}],
      "mark": {"type": "point", "shape": "circle", "filled": true, "size": 55, "color": "black", "opacity": 1},
      "encoding": {"x": {"field": "dose", "type": "quantitative"}, "y": {"field": "resp", "type": "quantitative"}}},
     {"data": {"name": "doses"}, "transform": [{"filter": "datum.assay === 'IP-10' && datum.agonist === 'Lipid IVa'"}],
      "mark": {"type": "point", "shape": "triangle-up", "filled": true, "fill": "white", "stroke": "black", "strokeWidth": 2, "size": 60, "opacity": 1},
      "encoding": {"x": {"field": "dose", "type": "quantitative"}, "y": {"field": "resp", "type": "quantitative"}}},
     {"data": {"name": "fits"}, "transform": [{"filter": "datum.assay === 'IP-10'"}],
      "mark": {"type": "point", "opacity": 0},
      "encoding": {
       "stroke": {"field": "fit", "type": "nominal", "sort": null, "scale": {"range": ["transparent", "transparent"]}, "legend": {"orient": "none", "legendX": 1, "legendY": -11, "title": null, "strokeColor": "black", "padding": 2, "labelFontSize": 14, "symbolSize": 0, "symbolOpacity": 0, "labelOffset": 0, "rowPadding": -2}}
      }}
    ]
   }
  ]
 }
]
}
